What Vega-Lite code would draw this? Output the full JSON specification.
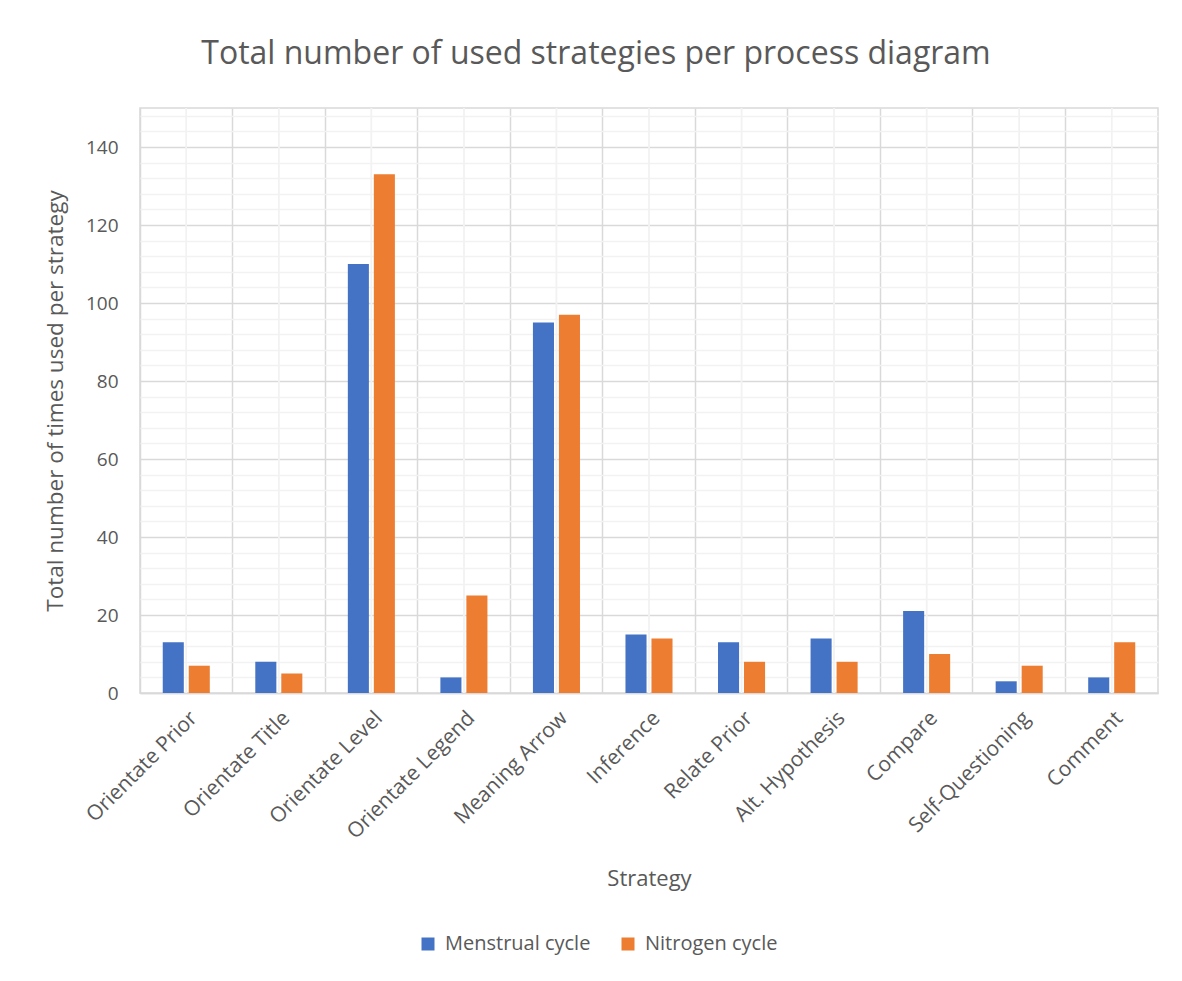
{
  "$schema": "https://vega.github.io/schema/vega-lite/v6.json",
  "width": 1018,
  "height": 585,
  "autosize": {"type": "none"},
  "padding": {"left": 140, "top": 108, "right": 24, "bottom": 288},
  "background": "white",
  "title": {
    "text": "Total number of used strategies per process diagram",
    "fontSize": 32,
    "font": "Open Sans",
    "fontWeight": "normal",
    "color": "#595959",
    "anchor": "middle",
    "dx": -53,
    "offset": 36
  },
  "data": {
    "values": [
      {"Strategy": "Orientate Prior", "Series": "Menstrual cycle", "Count": 13},
      {"Strategy": "Orientate Prior", "Series": "Nitrogen cycle", "Count": 7},
      {"Strategy": "Orientate Title", "Series": "Menstrual cycle", "Count": 8},
      {"Strategy": "Orientate Title", "Series": "Nitrogen cycle", "Count": 5},
      {"Strategy": "Orientate Level", "Series": "Menstrual cycle", "Count": 110},
      {"Strategy": "Orientate Level", "Series": "Nitrogen cycle", "Count": 133},
      {"Strategy": "Orientate Legend", "Series": "Menstrual cycle", "Count": 4},
      {"Strategy": "Orientate Legend", "Series": "Nitrogen cycle", "Count": 25},
      {"Strategy": "Meaning Arrow", "Series": "Menstrual cycle", "Count": 95},
      {"Strategy": "Meaning Arrow", "Series": "Nitrogen cycle", "Count": 97},
      {"Strategy": "Inference", "Series": "Menstrual cycle", "Count": 15},
      {"Strategy": "Inference", "Series": "Nitrogen cycle", "Count": 14},
      {"Strategy": "Relate Prior", "Series": "Menstrual cycle", "Count": 13},
      {"Strategy": "Relate Prior", "Series": "Nitrogen cycle", "Count": 8},
      {"Strategy": "Alt. Hypothesis", "Series": "Menstrual cycle", "Count": 14},
      {"Strategy": "Alt. Hypothesis", "Series": "Nitrogen cycle", "Count": 8},
      {"Strategy": "Compare", "Series": "Menstrual cycle", "Count": 21},
      {"Strategy": "Compare", "Series": "Nitrogen cycle", "Count": 10},
      {"Strategy": "Self-Questioning", "Series": "Menstrual cycle", "Count": 3},
      {"Strategy": "Self-Questioning", "Series": "Nitrogen cycle", "Count": 7},
      {"Strategy": "Comment", "Series": "Menstrual cycle", "Count": 4},
      {"Strategy": "Comment", "Series": "Nitrogen cycle", "Count": 13}
    ]
  },
  "encoding": {
    "x": {
      "field": "Strategy",
      "type": "nominal",
      "sort": ["Orientate Prior", "Orientate Title", "Orientate Level", "Orientate Legend", "Meaning Arrow", "Inference", "Relate Prior", "Alt. Hypothesis", "Compare", "Self-Questioning", "Comment"],
      "scale": {"paddingInner": 0, "paddingOuter": 0},
      "axis": {
        "title": "Strategy",
        "titleFont": "Open Sans",
        "titleFontSize": 22,
        "titleFontWeight": "normal",
        "titleColor": "#595959",
        "titlePadding": 26,
        "labelFont": "Open Sans",
        "labelFontSize": 21,
        "labelColor": "#595959",
        "labelAngle": -45,
        "labelAlign": "right",
        "labelBaseline": "top",
        "labelPadding": 14,
        "ticks": false,
        "domain": true,
        "domainColor": "#d9d9d9",
        "domainWidth": 1.5,
        "grid": true,
        "gridColor": "#d9d9d9",
        "gridWidth": 1.5,
        "bandPosition": 0
      }
    }
  },
  "layer": [
    {
      "mark": {"type": "rule", "color": "#f2f2f2", "strokeWidth": 1.5},
      "encoding": {}
    },
    {
      "mark": {"type": "bar"},
      "encoding": {
        "xOffset": {
          "field": "Series",
          "type": "nominal",
          "scale": {"paddingInner": 0.19, "paddingOuter": 0.875}
        },
        "y": {
          "field": "Count",
          "type": "quantitative",
          "scale": {"domain": [0, 150], "nice": false},
          "axis": {
            "title": "Total number of times used per strategy",
            "titleFont": "Open Sans",
            "titleFontSize": 22.5,
            "titleFontWeight": "normal",
            "titleColor": "#595959",
            "titlePadding": 18,
            "labelFont": "Open Sans",
            "labelFontSize": 19,
            "labelColor": "#595959",
            "labelPadding": 22,
            "values": [0, 4, 8, 12, 16, 20, 24, 28, 32, 36, 40, 44, 48, 52, 56, 60, 64, 68, 72, 76, 80, 84, 88, 92, 96, 100, 104, 108, 112, 116, 120, 124, 128, 132, 136, 140, 144, 148],
            "labelExpr": "datum.value % 20 === 0 ? datum.label : ''",
            "ticks": false,
            "domain": false,
            "grid": true,
            "gridWidth": 1.5,
            "gridColor": {"condition": {"test": "datum.value % 20 === 0", "value": "#d9d9d9"}, "value": "#f2f2f2"}
          }
        },
        "color": {
          "field": "Series",
          "type": "nominal",
          "scale": {"domain": ["Menstrual cycle", "Nitrogen cycle"], "range": ["#4472C4", "#ED7D31"]},
          "legend": {
            "title": null,
            "orient": "none",
            "direction": "horizontal",
            "legendX": 278,
            "legendY": 826,
            "symbolType": "square",
            "symbolSize": 169,
            "symbolStrokeWidth": 0,
            "labelFont": "Open Sans",
            "labelFontSize": 20,
            "labelColor": "#595959",
            "labelOffset": 7,
            "columnPadding": 27
          }
        }
      }
    }
  ],
  "config": {
    "view": {"stroke": "#d9d9d9", "strokeWidth": 1.5}
  }
}
